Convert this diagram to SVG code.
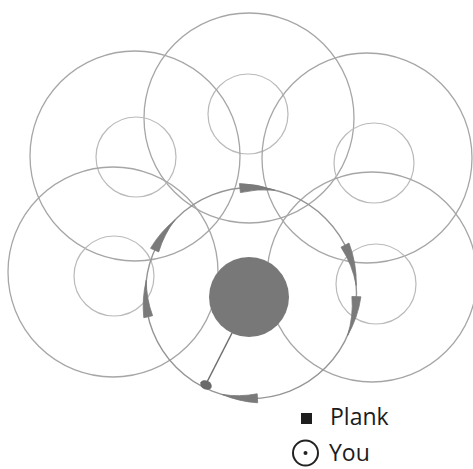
<svg xmlns="http://www.w3.org/2000/svg" width="473" height="469" viewBox="0 0 473 469">
  <style>
    .big { fill: none; stroke: #a6a6a6; stroke-width: 1.3; }
    .small { fill: none; stroke: #bababa; stroke-width: 1.2; }
    .orbit { fill: none; stroke: #959595; stroke-width: 1.4; }
    .wedge { fill: #7a7a7a; stroke: #7a7a7a; stroke-width: 0.8; stroke-linejoin: round; }
    .label { font-family: "Open Sans", "Liberation Sans", sans-serif; font-size: 23px; fill: #1c1c1c; }
  </style>
  <rect width="473" height="469" fill="#ffffff"/>

  <g id="zone-top">
    <circle class="big" cx="249" cy="118" r="105"/>
    <circle class="small" cx="248" cy="114" r="40"/>
  </g>
  <g id="zone-upper-left">
    <circle class="big" cx="135" cy="156" r="105"/>
    <circle class="small" cx="136" cy="157" r="40"/>
  </g>
  <g id="zone-upper-right">
    <circle class="big" cx="367" cy="158" r="105"/>
    <circle class="small" cx="374" cy="163" r="40"/>
  </g>
  <g id="zone-lower-left">
    <circle class="big" cx="113" cy="272" r="105"/>
    <circle class="small" cx="114" cy="276" r="40"/>
  </g>
  <g id="zone-lower-right">
    <circle class="big" cx="372" cy="277" r="105"/>
    <circle class="small" cx="376" cy="284" r="40"/>
  </g>

  <g id="orbit">
    <circle class="orbit" cx="251" cy="293" r="105.5"/>
  </g>

  <g id="center-disk">
    <circle cx="249" cy="297" r="40" fill="#787878"/>
  </g>

  <g id="connectors">
    <line x1="232" y1="333" x2="206" y2="384" stroke="#6e6e6e" stroke-width="1.5"/>
    <path class="wedge" d="M274.7,190.2 A110 110 0 0 0 239.5,183.6 L240.4,192.6 A101 101 0 0 1 274.7,190.2 Z"/>
    <path class="wedge" d="M175.1,219.7 A110 110 0 0 0 150.5,248.3 L158.7,251.9 A101 101 0 0 1 175.1,219.7 Z"/>
    <path class="wedge" d="M146.3,280.1 A110 110 0 0 0 143.8,317.7 L152.6,315.7 A101 101 0 0 1 146.3,280.1 Z"/>
    <path class="wedge" d="M356.2,285.6 A110 110 0 0 0 349.0,243.1 L341.0,247.2 A101 101 0 0 1 356.2,285.6 Z"/>
    <path class="wedge" d="M347.4,335.9 A110 110 0 0 0 360.9,296.8 L351.9,296.5 A101 101 0 0 1 347.4,335.9 Z"/>
    <path class="wedge" d="M221.9,394.4 A110 110 0 0 0 257.7,402.8 L257.2,393.8 A101 101 0 0 1 221.9,394.4 Z"/>
  </g>

  <g id="plank-marker">
    <ellipse cx="206" cy="385" rx="6" ry="4.5" transform="rotate(26 206 385)" fill="#6a6a6a"/>
  </g>

  <g id="legend">
    <rect x="301" y="413" width="11" height="11" fill="#1e1e1e"/>
    <text class="label" x="330" y="425">Plank</text>
    <circle cx="305.5" cy="453" r="12.5" fill="none" stroke="#222" stroke-width="2"/>
    <circle cx="305.5" cy="453" r="2" fill="#222"/>
    <text class="label" x="329" y="461">You</text>
  </g>
</svg>
